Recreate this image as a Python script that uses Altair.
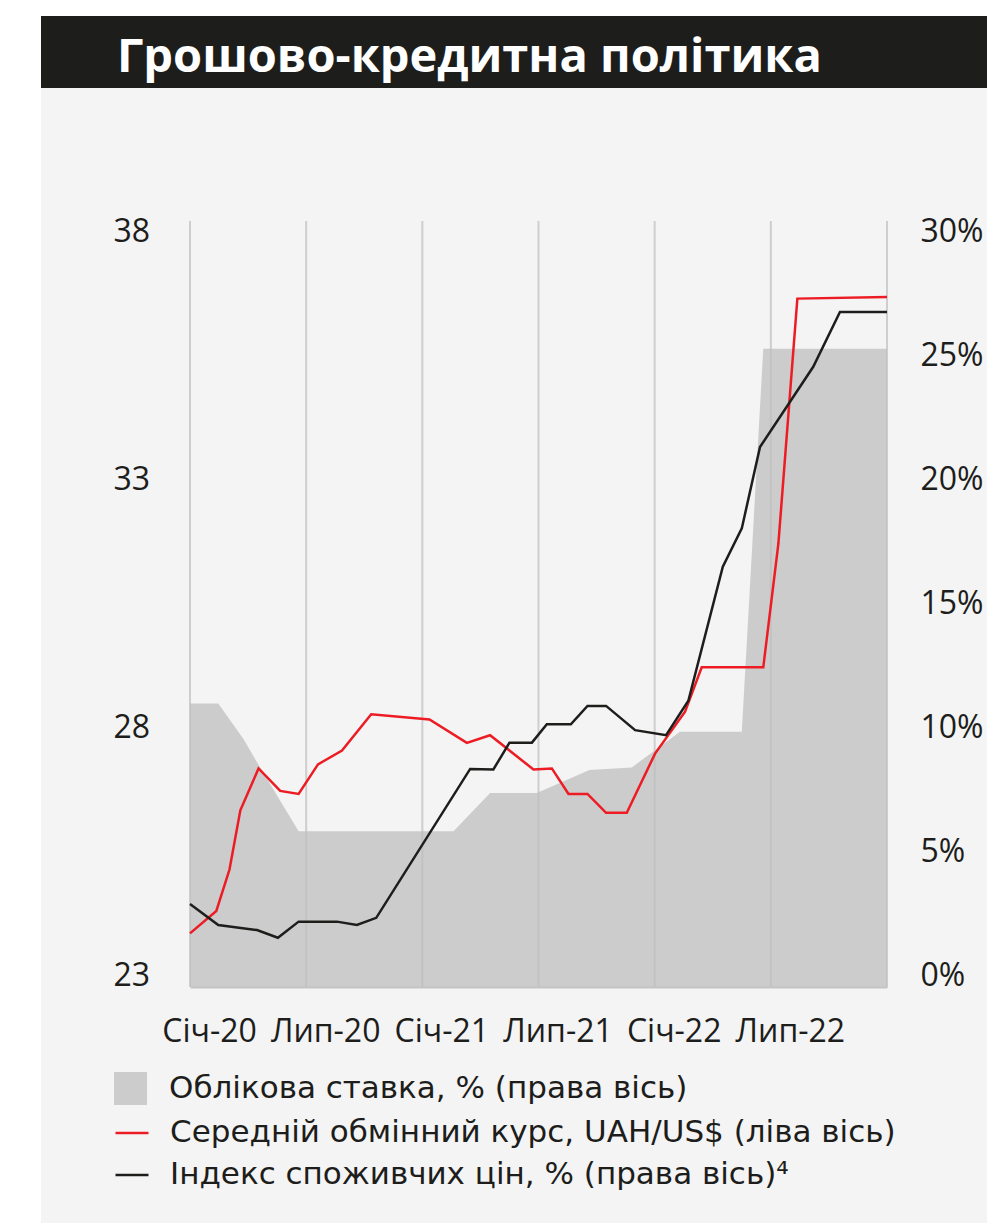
import altair as alt
import pandas as pd

# ---------------- data (x = months since Jan-2020) ----------------
rate_month = [0, 1.46, 2.77, 3.46, 5.61, 13.61, 15.50, 17.91, 20.63, 22.82, 25.31, 28.50, 29.61, 36]
rate_value = [11.1, 11.1, 9.7, 8.8, 6.1, 6.1, 7.6, 7.6, 8.5, 8.6, 10.0, 10.0, 25.0, 25.0]

usd_month = [0, 1.36, 2.04, 2.60, 3.54, 4.66, 5.61, 6.61, 7.85, 9.36, 12.37, 14.30, 15.50,
             17.74, 18.69, 19.55, 20.53, 21.49, 22.56, 24.02, 25.57, 26.43, 29.61, 30.39, 31.37, 36]
usd_value = [24.05, 24.49, 25.30, 26.46, 27.28, 26.84, 26.78, 27.36, 27.63, 28.34, 28.24, 27.78, 27.93,
             27.26, 27.28, 26.78, 26.78, 26.41, 26.41, 27.57, 28.39, 29.26, 29.26, 31.68, 36.48, 36.51]

cpi_month = [0, 1.46, 3.46, 4.54, 5.61, 7.59, 8.62, 9.62, 14.47, 15.67, 16.50, 17.66, 18.43,
             19.67, 20.53, 21.49, 22.99, 24.59, 25.74, 27.52, 28.50, 29.44, 32.19, 33.57, 36]
cpi_value = [3.25, 2.43, 2.23, 1.93, 2.56, 2.56, 2.43, 2.71, 8.54, 8.52, 9.57, 9.57, 10.29,
             10.29, 11.01, 11.01, 10.06, 9.86, 11.21, 16.46, 17.96, 21.15, 24.29, 26.44, 26.44]

x_tick_months = [0, 6, 12, 18, 24, 30]
x_tick_labels = ["Січ-20", "Лип-20", "Січ-21", "Лип-21", "Січ-22", "Лип-22"]
grid_months = [0, 6, 12, 18, 24, 30, 36]
left_ticks = [23, 28, 33, 38]
right_ticks = [0, 5, 10, 15, 20, 25, 30]

title_text = "Грошово-кредитна політика"
rate_label = "Облікова ставка, % (права вісь)"
usd_label = "Середній обмінний курс, UAH/US$ (ліва вісь)"
cpi_label = "Індекс споживчих цін, % (права вісь)⁴"

# ---------------- styling ----------------
W, H = 697, 766
FONT = "Open Sans"
LFONT = "DejaVu Sans"
INK = "#1d1d1b"
RED = "#ed1c24"
GRAY = "#cccccc"
PANEL = "#f4f4f4"
HEADER = "#1d1e1c"
AFS = 32   # axis label size
LFS = 31   # legend label size

rate_df = pd.DataFrame({"month": rate_month, "value": rate_value, "series": rate_label})
usd_df = pd.DataFrame({"month": usd_month, "value": usd_value, "series": usd_label})
cpi_df = pd.DataFrame({"month": cpi_month, "value": cpi_value, "series": cpi_label})
grid_df = pd.DataFrame({"month": grid_months})
one = pd.DataFrame({"k": [0]})

labels_arr = "[" + ",".join("'" + s + "'" for s in x_tick_labels) + "]"
x_axis = alt.Axis(
    values=x_tick_months, labelExpr=f"{labels_arr}[datum.value / 6]",
    labelFont=FONT, labelFontSize=AFS, labelColor=INK, labelOffset=19,
    labelPadding=54, labelBaseline="alphabetic", labelAlign="center",
    ticks=False, tickSize=0, grid=False, domain=True, domainColor="#c4c4c4",
    domainWidth=2, title=None, labelFlush=False, labelOverlap=False, zindex=1,
)
x_scale = alt.Scale(domain=[0, 36], nice=False, zero=False)
xenc = alt.X("month:Q", scale=x_scale, axis=x_axis)

# decorative panel + header
panel = alt.Chart(one).mark_rect(color=PANEL).encode(
    x=alt.value(-149), x2=alt.value(820), y=alt.value(-133), y2=alt.value(1020))
header = alt.Chart(one).mark_rect(color=HEADER).encode(
    x=alt.value(-149), x2=alt.value(820), y=alt.value(-205), y2=alt.value(-133))
title = alt.Chart(one).mark_text(
    text=title_text, align="left", baseline="alphabetic", font=FONT,
    fontSize=47, fontWeight="bold", color="white").encode(
    x=alt.value(-73), y=alt.value(-149))

area = alt.Chart(rate_df).mark_area(opacity=1, interpolate="linear").encode(
    x=xenc,
    y=alt.Y("value:Q", scale=alt.Scale(domain=[0, 30], nice=False, zero=False), axis=None),
    fill=alt.Fill("series:N", scale=alt.Scale(domain=[rate_label], range=[GRAY]),
                  legend=alt.Legend(title=None, orient="none", legendX=-76, legendY=851,
                                    symbolType="square", symbolSize=1089, symbolStrokeWidth=0,
                                    symbolOpacity=1, labelFont=LFONT, labelFontSize=LFS,
                                    labelColor=INK, labelOffset=22, padding=0, labelLimit=1000)),
)

grid = alt.Chart(grid_df).mark_rule(color="#bdbdbd", opacity=0.7, strokeWidth=2).encode(x=xenc)

stroke_scale = alt.Scale(domain=[usd_label, cpi_label], range=[RED, INK])
stroke_legend = alt.Legend(title=None, orient="none", legendX=-76, legendY=894,
                           symbolType="stroke", symbolSize=1089, symbolStrokeWidth=2.5,
                           labelFont=LFONT, labelFontSize=LFS, labelColor=INK, labelOffset=20,
                           padding=0, rowPadding=9, labelLimit=1000)

usd_line = alt.Chart(usd_df).mark_line(strokeWidth=2.5).encode(
    x=xenc,
    y=alt.Y("value:Q", scale=alt.Scale(domain=[23, 38], nice=False, zero=False), axis=None),
    stroke=alt.Stroke("series:N", scale=stroke_scale, legend=stroke_legend),
)
cpi_line = alt.Chart(cpi_df).mark_line(strokeWidth=2.5).encode(
    x=xenc,
    y=alt.Y("value:Q", scale=alt.Scale(domain=[0, 30], nice=False, zero=False), axis=None),
    stroke=alt.Stroke("series:N", scale=stroke_scale, legend=stroke_legend),
)

# axis layers (labels sit slightly inside the plot frame, as in the original)
left_axis = alt.Chart(usd_df).mark_point(opacity=0).encode(
    x=xenc,
    y=alt.Y("value:Q", scale=alt.Scale(domain=[22.758, 38.222], nice=False, zero=False),
            axis=alt.Axis(orient="left", values=left_ticks, labelFont=FONT, labelFontSize=AFS,
                          labelColor=INK, labelAlign="left", labelPadding=77, ticks=False,
                          tickSize=0, domain=False, grid=False, title=None, zindex=1)),
)
right_axis = alt.Chart(cpi_df).mark_point(opacity=0).encode(
    x=xenc,
    y=alt.Y("value:Q", scale=alt.Scale(domain=[-0.484, 30.444], nice=False, zero=False),
            axis=alt.Axis(orient="right", values=right_ticks, labelExpr="datum.value + '%'",
                          labelFont=FONT, labelFontSize=AFS, labelColor=INK, labelAlign="left",
                          labelPadding=33, ticks=False, tickSize=0, domain=False, grid=False,
                          title=None, zindex=1)),
)

chart = alt.layer(panel, header, title, area, grid, usd_line, cpi_line, left_axis, right_axis).resolve_scale(
    y="independent"
).properties(
    width=W, height=H,
    padding={"left": 182, "top": 213, "right": 100, "bottom": 236},
    autosize=alt.AutoSizeParams(type="none"),
    background="white",
).configure_view(stroke=None)

chart.save("out.html", embed_options={"renderer": "svg", "actions": False})
